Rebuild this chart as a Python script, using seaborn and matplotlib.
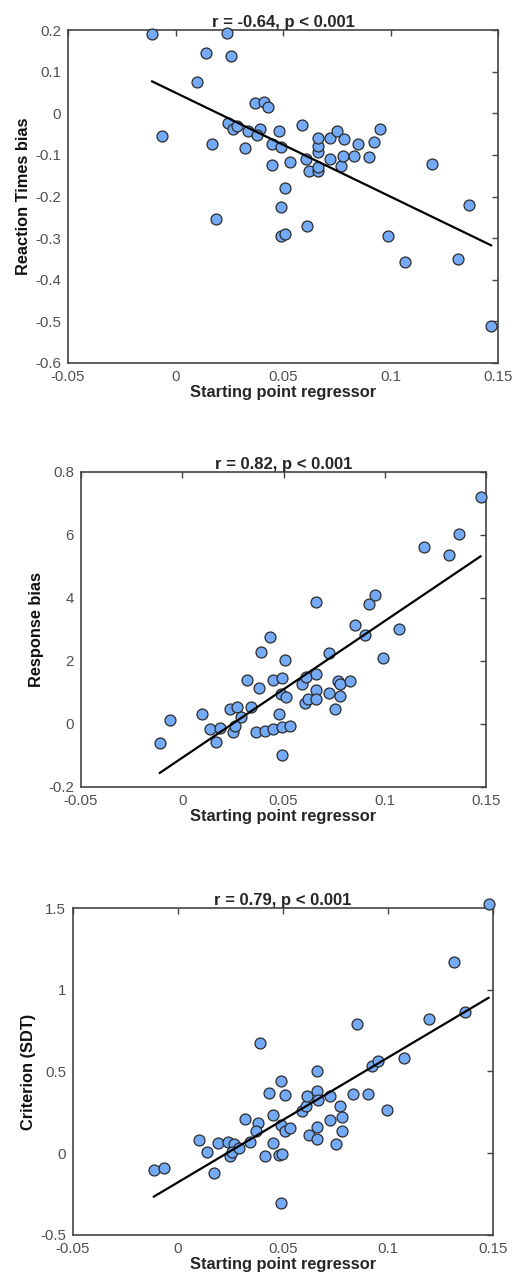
import matplotlib
matplotlib.use("Agg")
import matplotlib.pyplot as plt
import numpy as np
import pandas as pd
import seaborn as sns

# panel 1: reaction times bias
rt_x = [-0.011, 0.0239, 0.014, 0.026, 0.0099, -0.0062, 0.0169, 0.037, 0.0413, 0.0429,
        0.0245, 0.0267, 0.0287, 0.0337, 0.0391, 0.0379, 0.0321, 0.0481, 0.0447, 0.0492,
        0.045, 0.0531, 0.0589, 0.0609, 0.062, 0.0663, 0.0663, 0.0663, 0.0663, 0.0663,
        0.072, 0.0752, 0.0783, 0.072, 0.077, 0.078, 0.0832, 0.0851, 0.0898, 0.0922,
        0.095, 0.1193, 0.0509, 0.0489, 0.0189, 0.0489, 0.0509, 0.0612, 0.099, 0.1068,
        0.1314, 0.1363, 0.1469]
rt_y = [0.191, 0.194, 0.146, 0.138, 0.074, -0.054, -0.073, 0.024, 0.027, 0.015,
        -0.024, -0.038, -0.030, -0.042, -0.038, -0.052, -0.084, -0.042, -0.074, -0.082,
        -0.124, -0.116, -0.027, -0.109, -0.138, -0.138, -0.129, -0.094, -0.078, -0.059,
        -0.060, -0.042, -0.062, -0.109, -0.126, -0.102, -0.102, -0.074, -0.105, -0.069,
        -0.038, -0.122, -0.179, -0.226, -0.254, -0.294, -0.289, -0.272, -0.294, -0.357,
        -0.350, -0.221, -0.510]
rt_ticks = [-0.6, -0.5, -0.4, -0.3, -0.2, -0.1, 0, 0.1, 0.2]
rt_ticklabels = ["-0.6", "-0.5", "-0.4", "-0.3", "-0.2", "-0.1", "0", "0.1", "0.2"]

# panel 2: response bias
resp_x = [0.1474, 0.1365, 0.1193, 0.1315, 0.0662, 0.0921, 0.0952,
          -0.0112, -0.0063, 0.0096, 0.0137, 0.0186, 0.0168, 0.0236, 0.0269, 0.0289, 0.0249,
          0.0261, 0.0318, 0.0338, 0.038, 0.0389, 0.0431, 0.0366, 0.0409, 0.0447, 0.0492,
          0.0508, 0.0488, 0.0512, 0.048, 0.0447, 0.0492, 0.0533, 0.0492, 0.0591, 0.0611,
          0.0662, 0.0607, 0.0619, 0.0662, 0.0662, 0.0723, 0.0723, 0.0752, 0.0771, 0.0781,
          0.0781, 0.083, 0.0851, 0.0901, 0.0992, 0.1071]
resp_y = [7.2, 6.02, 5.62, 5.36, 3.88, 3.81, 4.10,
          -0.61, 0.13, 0.31, -0.15, -0.14, -0.57, 0.46, 0.55, 0.22, -0.25,
          -0.08, 1.39, 0.55, 1.15, 2.28, 2.75, -0.27, -0.22, 1.41, 1.46,
          2.04, 0.94, 0.85, 0.31, -0.15, -0.09, -0.08, -0.99, 1.28, 1.49,
          1.6, 0.65, 0.8, 1.07, 0.8, 2.25, 0.97, 0.48, 1.36, 1.27,
          0.88, 1.36, 3.15, 2.83, 2.08, 3.01]
resp_ticks = [-2, 0, 2, 4, 6, 8]
resp_ticklabels = ["-0.2", "0", "2", "4", "6", "0.8"]

# panel 3: criterion
crit_x = [0.148, 0.1316, 0.1367, 0.1197, 0.0852, 0.0392,
          -0.0116, -0.0065, 0.0098, 0.0138, 0.019, 0.017, 0.0237, 0.0267, 0.0249, 0.0257,
          0.0289, 0.0319, 0.0341, 0.0383, 0.037, 0.0432, 0.0413, 0.0451, 0.0451, 0.0492,
          0.0511, 0.0492, 0.051, 0.0532, 0.0481, 0.0497, 0.0492, 0.0592, 0.0611, 0.0614,
          0.0624, 0.0663, 0.0663, 0.0667, 0.0663, 0.0663, 0.0722, 0.0722, 0.0754, 0.0773,
          0.0783, 0.0783, 0.0833, 0.0903, 0.0925, 0.0954, 0.0995, 0.1076]
crit_y = [1.524, 1.168, 0.866, 0.821, 0.789, 0.672,
          -0.104, -0.088, 0.078, 0.008, 0.061, -0.12, 0.071, 0.055, -0.02, 0.006,
          0.033, 0.212, 0.069, 0.186, 0.137, 0.369, -0.014, 0.231, 0.065, 0.443,
          0.357, 0.171, 0.135, 0.157, -0.012, -0.004, -0.302, 0.257, 0.288, 0.353,
          0.112, 0.502, 0.380, 0.324, 0.159, 0.09, 0.351, 0.202, 0.055, 0.288,
          0.22, 0.137, 0.365, 0.365, 0.535, 0.563, 0.265, 0.58]
crit_ticks = [-0.5, 0, 0.5, 1, 1.5]
crit_ticklabels = ["-0.5", "0", "0.5", "1", "1.5"]

x_ticks = [-0.05, 0, 0.05, 0.1, 0.15]
x_ticklabels = ["-0.05", "0", "0.05", "0.1", "0.15"]

sns.set_style("white")
plt.rcParams["font.family"] = ["Liberation Sans", "DejaVu Sans"]
plt.rcParams["axes.unicode_minus"] = False

fig = plt.figure(figsize=(5.14, 12.84), dpi=100)

panels = [
    (rt_x, rt_y, "r = -0.64, p < 0.001", "Reaction Times bias", [0.1323, 0.7173, 0.8366, 0.2593],
     (-0.6, 0.2), rt_ticks, rt_ticklabels),
    (resp_x, resp_y, "r = 0.82, p < 0.001", "Response bias", [0.1576, 0.3871, 0.788, 0.2453],
     (-2, 8), resp_ticks, resp_ticklabels),
    (crit_x, crit_y, "r = 0.79, p < 0.001", "Criterion (SDT)", [0.142, 0.0382, 0.817, 0.2546],
     (-0.5, 1.5), crit_ticks, crit_ticklabels),
]

for xs, ys, title, ylab, rect, ylim, yt, ytl in panels:
    ax = fig.add_axes(rect)
    df = pd.DataFrame({"x": xs, "y": ys})
    sns.regplot(data=df, x="x", y="y", ax=ax, ci=None, truncate=True,
                scatter_kws=dict(s=62, color="#74AAF5", edgecolor="#2b2b2b",
                                 linewidths=0.9, alpha=1, zorder=3, clip_on=False),
                line_kws=dict(color="black", lw=1.6, zorder=4))
    ax.set_xlim(-0.05, 0.15)
    ax.set_ylim(*ylim)
    ax.set_xticks(x_ticks)
    ax.set_xticklabels(x_ticklabels)
    ax.set_yticks(yt)
    ax.set_yticklabels(ytl)
    ax.set_title(title, fontsize=12, fontweight="bold", pad=2)
    ax.set_xlabel("Starting point regressor", fontsize=11.8, fontweight="bold", color="#262626", labelpad=1)
    ax.set_ylabel(ylab, fontsize=11.8, fontweight="bold", color="#111111", labelpad=3)
    ax.tick_params(direction="in", top=True, right=True, length=4, width=1,
                   color="#444444", labelcolor="#505050", labelsize=10.8)
    ax.tick_params(axis="x", pad=5)
    ax.tick_params(axis="y", pad=5)
    for sp in ax.spines.values():
        sp.set_visible(True)
        sp.set_color("#444444")
        sp.set_linewidth(1.2)

fig.savefig("out.png", dpi=100)
